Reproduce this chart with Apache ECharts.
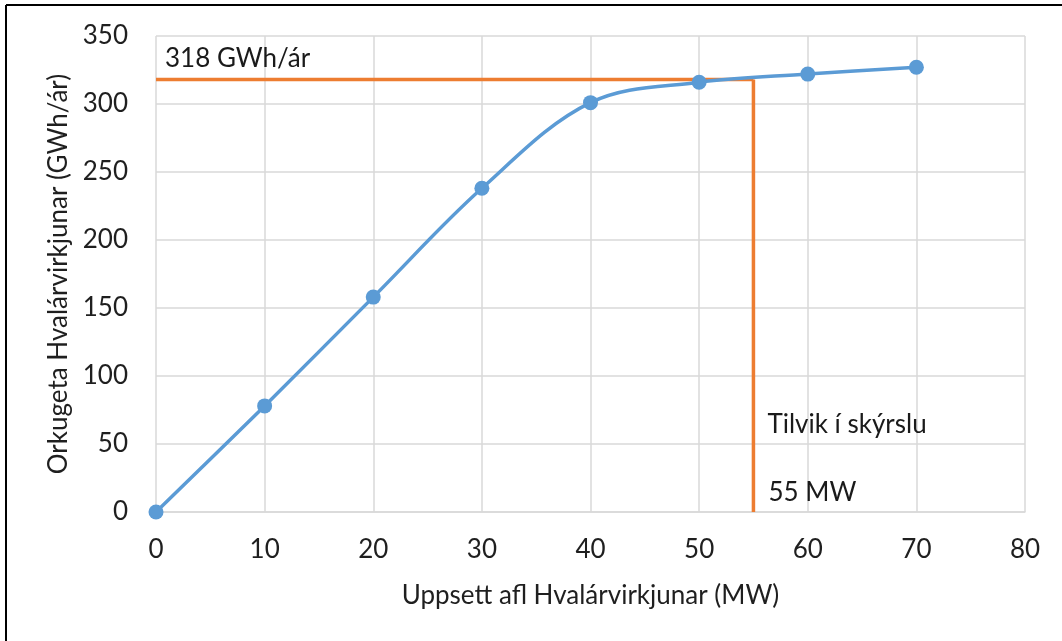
<!DOCTYPE html>
<html><head><meta charset="utf-8">
<script src="https://cdn.jsdelivr.net/npm/echarts@6/dist/echarts.min.js"></script>
<style>html,body{margin:0;padding:0;background:#fff}#c{width:1062px;height:641px}</style>
</head><body><div id="c"></div>
<script>
const powerMW = [0, 10, 20, 30, 40, 50, 60, 70];
const energyGWh = [0, 78, 158, 238, 301, 316, 322, 327];
const refMW = 55;
const refGWh = 318;
const xTitle = 'Uppsett afl Hvalárvirkjunar (MW)';
const yTitle = 'Orkugeta Hvalárvirkjunar (GWh/ár)';
const labelEnergy = '318 GWh/ár';
const labelCase = 'Tilvik í skýrslu';
const labelPower = '55 MW';

const FONT = 'Lato';
const chart = echarts.init(document.getElementById('c'));
const grid = '#D9D9D9';
chart.setOption({
  animation: false,
  textStyle: {fontFamily: FONT},
  grid: {left: 156, right: 37, top: 36, bottom: 129},
  xAxis: {
    type: 'value', min: 0, max: 80, interval: 10,
    name: xTitle, nameLocation: 'middle', nameGap: 71,
    nameTextStyle: {fontSize: 26, color: '#1f1f1f', fontFamily: FONT},
    axisLine: {show: true, lineStyle: {color: grid, width: 1.5}},
    axisTick: {show: false},
    axisLabel: {fontSize: 26, color: '#1f1f1f', margin: 25, fontFamily: FONT},
    splitLine: {show: true, lineStyle: {color: grid, width: 1.5}}
  },
  yAxis: {
    type: 'value', min: 0, max: 350, interval: 50,
    name: yTitle, nameLocation: 'middle', nameGap: 84, nameRotate: 90,
    nameTextStyle: {fontSize: 26, color: '#1f1f1f', fontFamily: FONT},
    axisLine: {show: false},
    axisTick: {show: false},
    axisLabel: {fontSize: 26, color: '#1f1f1f', margin: 28, fontFamily: FONT},
    splitLine: {show: true, lineStyle: {color: grid, width: 1.5}}
  },
  series: [
    {type: 'line', data: [[0, refGWh], [refMW, refGWh]], symbol: 'none',
     lineStyle: {color: '#ED7D31', width: 3.5}, z: 2},
    {type: 'line', data: [[refMW, 0], [refMW, refGWh]], symbol: 'none',
     lineStyle: {color: '#ED7D31', width: 3.5}, z: 2},
    {type: 'line', data: powerMW.map((x, i) => [x, energyGWh[i]]), smooth: 0.35,
     symbol: 'circle', symbolSize: 15,
     itemStyle: {color: '#5B9BD5'}, lineStyle: {color: '#5B9BD5', width: 3.5}, z: 3}
  ]
});
const p0 = chart.convertToPixel({xAxisIndex: 0, yAxisIndex: 0}, [0, refGWh]);
const p1 = chart.convertToPixel({xAxisIndex: 0, yAxisIndex: 0}, [refMW, 0]);
const ts = {fontSize: 26, fill: '#1a1a1a', fontFamily: FONT, verticalAlign: 'middle', align: 'left'};
chart.setOption({
  graphic: [
    {type: 'line', shape: {x1: 6, y1: 5, x2: 1062, y2: 5}, style: {stroke: '#000', lineWidth: 2}},
    {type: 'line', shape: {x1: 6, y1: 5, x2: 6, y2: 641}, style: {stroke: '#000', lineWidth: 2}},
    {type: 'text', x: p0[0] + 9, y: p0[1] - 21, style: Object.assign({text: labelEnergy}, ts)},
    {type: 'text', x: p1[0] + 14, y: p1[1] - 87, style: Object.assign({text: labelCase}, ts)},
    {type: 'text', x: p1[0] + 15, y: p1[1] - 19, style: Object.assign({text: labelPower}, ts)}
  ]
});
</script></body></html>
